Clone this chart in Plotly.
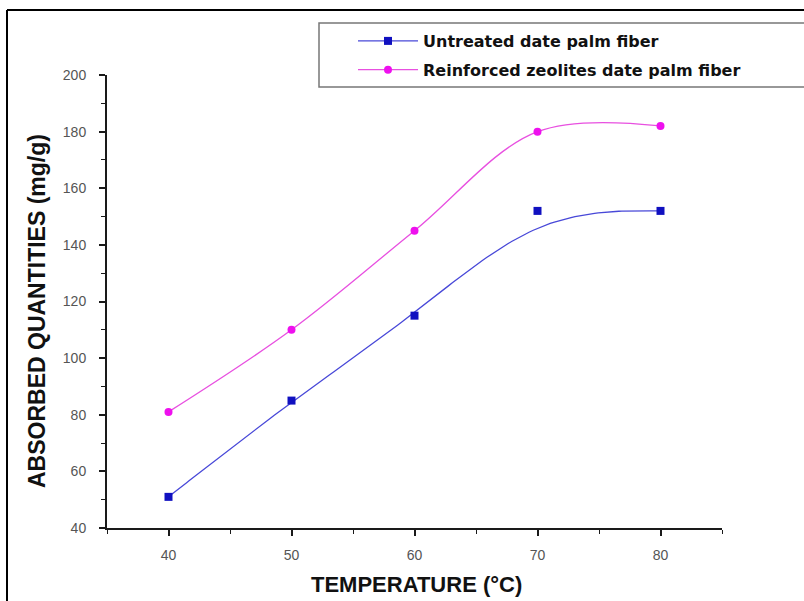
import numpy as np
import plotly.graph_objects as go

# ---- data ----
temperature = [40, 50, 60, 70, 80]
untreated = [51, 85, 115, 152, 152]
reinforced = [81, 110, 145, 180, 182]
series_names = ["Untreated date palm fiber", "Reinforced zeolites date palm fiber"]
y_ticks = [40, 60, 80, 100, 120, 140, 160, 180, 200]
x_ticks = [40, 50, 60, 70, 80]

BLUE_M = "#1010c0"
BLUE_L = "#4848d8"
MAG_M = "#ee10ee"
MAG_L = "#e850e0"


def bspline(xs, ys, n=30):
    """Uniform cubic B-spline using the data points as control points (ends clamped)."""
    px = [xs[0]] * 2 + list(xs) + [xs[-1]] * 2
    py = [ys[0]] * 2 + list(ys) + [ys[-1]] * 2
    ox, oy = [], []
    t = np.linspace(0, 1, n)
    b0 = (1 - t) ** 3 / 6
    b1 = (3 * t**3 - 6 * t**2 + 4) / 6
    b2 = (-3 * t**3 + 3 * t**2 + 3 * t + 1) / 6
    b3 = t**3 / 6
    for i in range(len(px) - 3):
        ox.extend(b0 * px[i] + b1 * px[i + 1] + b2 * px[i + 2] + b3 * px[i + 3])
        oy.extend(b0 * py[i] + b1 * py[i + 1] + b2 * py[i + 2] + b3 * py[i + 3])
    return ox, oy


ux, uy = bspline(temperature, untreated)

fig = go.Figure()
# smooth curves
fig.add_trace(go.Scatter(x=ux, y=uy, mode="lines", line=dict(color=BLUE_L, width=1.3),
                         showlegend=False, hoverinfo="skip"))
fig.add_trace(go.Scatter(x=temperature, y=reinforced, mode="lines",
                         line=dict(color=MAG_L, width=1.3, shape="spline", smoothing=1.0),
                         showlegend=False, hoverinfo="skip"))
# markers
fig.add_trace(go.Scatter(x=temperature, y=untreated, mode="markers",
                         marker=dict(symbol="square", size=8, color=BLUE_M),
                         showlegend=False))
fig.add_trace(go.Scatter(x=temperature, y=reinforced, mode="markers",
                         marker=dict(symbol="circle", size=8, color=MAG_M),
                         showlegend=False))
# legend entries
fig.add_trace(go.Scatter(x=[None], y=[None], mode="lines+markers", name=series_names[0],
                         line=dict(color=BLUE_L, width=1.3),
                         marker=dict(symbol="square", size=8, color=BLUE_M),
                         legendgroup="a"))
fig.add_trace(go.Scatter(x=[None], y=[None], mode="lines+markers", name=series_names[1],
                         line=dict(color=MAG_L, width=1.3),
                         marker=dict(symbol="circle", size=8, color=MAG_M),
                         legendgroup="b"))

L, R, T, B = 107, 82, 75, 73
PW, PH = 804 - L - R, 601 - T - B


def px2x(p):
    return (p - L) / PW


def px2y(p):
    return (601 - B - p) / PH


axis_common = dict(
    showline=True, linecolor="#1a1a1a", linewidth=2, mirror=False,
    ticks="outside", ticklen=6, tickwidth=1.6, tickcolor="#1a1a1a",
    showgrid=False, zeroline=False,
    tickfont=dict(family="Liberation Sans, Arial", size=14, color="#555"),
)

fig.update_layout(
    width=804, height=601,
    margin=dict(l=L, r=R, t=T, b=B),
    paper_bgcolor="white", plot_bgcolor="white",
    xaxis=dict(range=[35, 85], tickvals=x_ticks, ticklabelstandoff=7,
               minor=dict(dtick=5, tick0=35, ticks="outside", ticklen=4, tickwidth=1.4, tickcolor="#1a1a1a"),
               **axis_common),
    yaxis=dict(range=[40, 200], tickvals=y_ticks, ticklabelstandoff=10,
               minor=dict(dtick=10, tick0=40, ticks="outside", ticklen=4, tickwidth=1.4, tickcolor="#1a1a1a"),
               **axis_common),
    legend=dict(x=px2x(353), y=px2y(24), xanchor="left", yanchor="top",
                bgcolor="rgba(0,0,0,0)", borderwidth=0, tracegroupgap=5,
                itemwidth=60,
                font=dict(family="DejaVu Sans", size=16, color="#111", weight="bold")),
    showlegend=True,
    shapes=[
        # legend frame
        dict(type="rect", xref="paper", yref="paper",
             x0=px2x(319), x1=px2x(830), y0=px2y(87), y1=px2y(23),
             line=dict(color="#777", width=1.5), fillcolor="rgba(0,0,0,0)", layer="below"),
        # outer frame
        dict(type="line", xref="paper", yref="paper",
             x0=px2x(7), x1=px2x(7), y0=px2y(620), y1=px2y(10),
             line=dict(color="#000", width=2)),
        dict(type="line", xref="paper", yref="paper",
             x0=px2x(7), x1=px2x(830), y0=px2y(10), y1=px2y(10),
             line=dict(color="#000", width=2)),
    ],
    annotations=[
        dict(text="TEMPERATURE (°C)", xref="paper", yref="paper",
             x=px2x(416), y=px2y(584), showarrow=False, xanchor="center", yanchor="middle",
             font=dict(family="Liberation Sans, Arial", size=22, color="#111", weight="bold")),
        dict(text="ABSORBED QUANTITIES (mg/g)", xref="paper", yref="paper",
             x=px2x(37), y=px2y(311), showarrow=False, xanchor="center", yanchor="middle",
             textangle=-90,
             font=dict(family="Liberation Sans, Arial", size=23, color="#111", weight="bold")),
    ],
)

fig.write_html("out.html")
